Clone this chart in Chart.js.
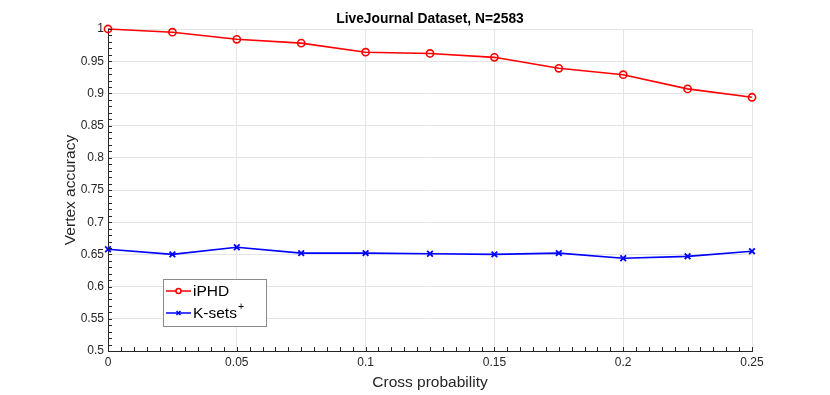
<!DOCTYPE html>
<html>
<head>
<meta charset="utf-8">
<script src="https://cdn.jsdelivr.net/npm/chart.js@4.4.1/dist/chart.umd.min.js"></script>
<style>
html,body{margin:0;padding:0;background:#fff;}
#c{display:block;}
</style>
</head>
<body>
<canvas id="c" width="830" height="395"></canvas>
<script>
const crossProb = [0, 0.025, 0.05, 0.075, 0.1, 0.125, 0.15, 0.175, 0.2, 0.225, 0.25];
const iphd   = [1.000, 0.995, 0.984, 0.978, 0.964, 0.962, 0.956, 0.939, 0.929, 0.907, 0.894];
const ksets  = [0.658, 0.650, 0.661, 0.652, 0.652, 0.651, 0.650, 0.652, 0.644, 0.647, 0.655];
const xTickLabels = ['0', '0.05', '0.1', '0.15', '0.2', '0.25'];
const yTickLabels = ['0.5', '0.55', '0.6', '0.65', '0.7', '0.75', '0.8', '0.85', '0.9', '0.95', '1'];
const titleText = 'LiveJournal Dataset, N=2583';
const xTitle = 'Cross probability';
const yTitle = 'Vertex accuracy';

const FONT = "'Liberation Sans', Arial, Helvetica, sans-serif";
const AX = '#262626';
const GRID = '#e5e5e5';

const centerTitle = {
  id: 'centerTitle',
  afterLayout(chart) {
    if (chart.titleBlock) {
      chart.titleBlock.left = chart.chartArea.left;
      chart.titleBlock.right = chart.chartArea.right;
    }
  }
};

const minorTicks = {
  id: 'minorTicks',
  afterDatasetsDraw(chart) {
    const {ctx, chartArea: a, scales: {x, y}} = chart;
    ctx.save();
    ctx.strokeStyle = AX;
    ctx.lineWidth = 1;
    ctx.beginPath();
    for (let i = 0; i <= 50; i++) {
      const px = Math.round(x.getPixelForValue(i * 0.005)) + 0.5;
      ctx.moveTo(px, a.bottom);
      ctx.lineTo(px, a.bottom - 4);
    }
    for (let i = 0; i <= 50; i++) {
      const py = Math.round(y.getPixelForValue(0.5 + i * 0.01)) + 0.5;
      ctx.moveTo(a.left, py);
      ctx.lineTo(a.left + 4, py);
    }
    ctx.stroke();
    ctx.restore();
  }
};

const customLegend = {
  id: 'customLegend',
  afterDraw(chart) {
    const {ctx} = chart;
    const bx = 163.5, by = 279.5, bw = 103, bh = 47;
    ctx.save();
    ctx.fillStyle = '#ffffff';
    ctx.fillRect(bx, by, bw, bh);
    ctx.strokeStyle = '#8a8a8a';
    ctx.lineWidth = 1;
    ctx.strokeRect(bx, by, bw, bh);
    const rows = [291, 313];
    chart.data.datasets.forEach((ds, i) => {
      const yy = rows[i];
      ctx.strokeStyle = ds.borderColor;
      ctx.lineWidth = 1.5;
      ctx.beginPath();
      ctx.moveTo(166, yy);
      ctx.lineTo(191, yy);
      ctx.stroke();
      Chart.helpers.drawPoint(ctx, {
        pointStyle: ds.pointStyle, radius: ds.pointRadius * 0.7, borderWidth: ds.pointBorderWidth, rotation: 0
      }, 178.5, yy);
      ctx.fillStyle = '#000';
      ctx.font = '15.5px ' + FONT;
      ctx.textBaseline = 'middle';
      ctx.textAlign = 'left';
      ctx.fillText(ds.label, 193, yy + 1);
      if (ds.sup) {
        const w = ctx.measureText(ds.label).width;
        ctx.font = '10.5px ' + FONT;
        ctx.fillText(ds.sup, 193 + w + 1, yy - 6);
      }
    });
    ctx.restore();
  }
};

new Chart(document.getElementById('c'), {
  type: 'line',
  data: {
    datasets: [
      {
        label: 'iPHD',
        data: crossProb.map((v, i) => ({x: v, y: iphd[i]})),
        borderColor: '#ff0000',
        backgroundColor: 'rgba(0,0,0,0)',
        borderWidth: 1.6,
        pointStyle: 'circle',
        pointRadius: 3.6,
        pointBorderWidth: 1.6,
        pointBackgroundColor: 'rgba(0,0,0,0)',
        pointBorderColor: '#ff0000',
        tension: 0,
        clip: false
      },
      {
        label: 'K-sets',
        sup: '+',
        data: crossProb.map((v, i) => ({x: v, y: ksets[i]})),
        borderColor: '#0000ff',
        backgroundColor: 'rgba(0,0,0,0)',
        borderWidth: 1.6,
        pointStyle: 'crossRot',
        pointRadius: 4,
        pointBorderWidth: 1.8,
        pointBorderColor: '#0000ff',
        tension: 0,
        clip: false
      }
    ]
  },
  options: {
    responsive: false,
    animation: false,
    devicePixelRatio: 1,
    layout: {padding: {left: 0, right: 78, top: 0, bottom: 0}},
    plugins: {
      legend: {display: false},
      tooltip: {enabled: false},
      title: {
        display: true,
        text: titleText,
        color: '#000',
        font: {family: FONT, size: 13.8, weight: 'bold', lineHeight: 1.2},
        padding: {top: 11.2, bottom: 1.24}
      }
    },
    scales: {
      x: {
        type: 'linear',
        min: 0, max: 0.25,
        afterFit(s) { s.height = 44; },
        afterBuildTicks(s) { s.ticks = xTickLabels.map(t => ({value: parseFloat(t)})); },
        ticks: {
          autoSkip: false,
          maxRotation: 0,
          color: AX,
          padding: 4,
          font: {family: FONT, size: 12, lineHeight: 1.2},
          callback: (v, i) => xTickLabels[i]
        },
        grid: {color: GRID, lineWidth: 1, drawTicks: false},
        border: {color: AX, width: 1},
        title: {
          display: true, text: xTitle, color: AX,
          font: {family: FONT, size: 15.5, lineHeight: 1.2},
          padding: {top: 0, bottom: 3}
        }
      },
      y: {
        type: 'linear',
        min: 0.5, max: 1,
        afterFit(s) { s.width = 108; },
        afterBuildTicks(s) { s.ticks = yTickLabels.map(t => ({value: parseFloat(t)})); },
        ticks: {
          autoSkip: false,
          color: AX,
          padding: 4,
          font: {family: FONT, size: 12, lineHeight: 1.2},
          callback: (v, i) => yTickLabels[i]
        },
        grid: {color: GRID, lineWidth: 1, drawTicks: false},
        border: {color: AX, width: 1},
        title: {
          display: true, text: yTitle, color: AX,
          font: {family: FONT, size: 15.5, lineHeight: 1.2},
          padding: {top: 61, bottom: 0}
        }
      }
    }
  },
  plugins: [centerTitle, minorTicks, customLegend]
});
</script>
</body>
</html>
